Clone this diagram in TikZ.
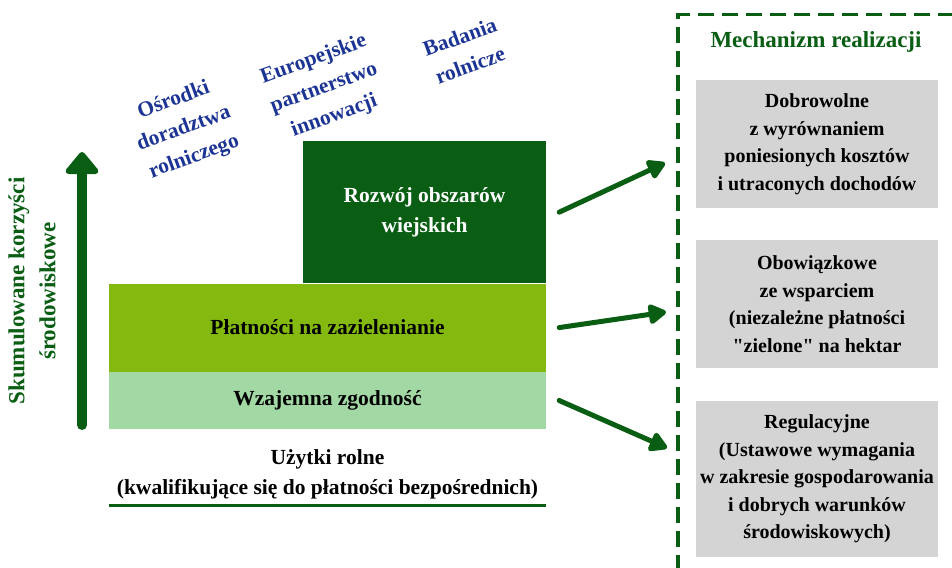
\documentclass[tikz,border=0pt]{standalone}
\usepackage{fontspec}
\setmainfont{Liberation Serif}[Ligatures=TeXOff]
\usetikzlibrary{positioning, arrows.meta}
\definecolor{agrodark}{RGB}{10,94,20}
\definecolor{agrolime}{RGB}{132,186,16}
\definecolor{agropale}{RGB}{162,216,164}
\definecolor{boxgray}{RGB}{212,212,212}
\definecolor{toolblue}{RGB}{28,52,148}

\begin{document}
\begin{tikzpicture}[
    x=1pt, y=1pt,
    node distance=32pt and 20pt,
    layer/.style={rectangle, inner sep=0pt, minimum width=437pt, align=center, font=\fontsize{21.5}{30}\selectfont\bfseries},
    mechbox/.style={rectangle, fill=boxgray, inner sep=0pt, minimum width=242pt, align=center, font=\fontsize{20}{27.5}\selectfont\bfseries},
    tool/.style={text=toolblue, rotate=20, align=center, font=\fontsize{21.5}{30}\selectfont\bfseries},
    arrow/.style={-{Triangle[round, length=20pt, width=22pt]}, line width=5pt, line cap=round, draw=agrodark}
]
    \useasboundingbox (0,0) rectangle (952,567);

    % warstwy wymogow
    \node [layer, fill=agropale, minimum height=57pt] (zgodnosc) at (327.5,166.5) {Wzajemna zgodność};
    \node [layer, fill=agrolime, minimum height=88pt, above=0pt of zgodnosc] (platnosci) {Płatności na zazielenianie};
    \node [layer, fill=agrodark, text=white, minimum width=243pt, minimum height=142pt, anchor=south east] (rozwoj) at (platnosci.north east) {Rozwój obszarów\\wiejskich};

    \node [font=\fontsize{21.5}{30}\selectfont\bfseries, align=center] (uzytki) at (327.5,93) {Użytki rolne\\(kwalifikujące się do płatności bezpośrednich)};
    \draw [agrodark, line width=3pt] ([yshift=-76pt]zgodnosc.south west) -- ([yshift=-76pt]zgodnosc.south east);

    % os korzysci
    \coordinate (osdol) at (82,142);
    \coordinate (osgora) at (82,415);
    \draw [agrodark, line width=10pt, line cap=round, -{Triangle[round, length=24pt, width=38pt]}] (osdol) -- (osgora);
    \node [rotate=90, text=agrodark, align=center, font=\fontsize{23}{31}\selectfont\bfseries] (korzysci) at (32,276) {Skumulowane korzyści\\środowiskowe};

    % wsparcie wiedzy
    \node [tool] (osrodki) at (184,438) {Ośrodki\\doradztwa\\rolniczego};
    \node [tool] (eip) at (324,479) {Europejskie\\partnerstwo\\innowacji};
    \node [tool] (badania) at (465,516) {Badania\\rolnicze};

    % mechanizm realizacji
    \node [draw=agrodark, line width=3.5pt, dash pattern=on 16pt off 8pt, minimum width=320pt, minimum height=620pt, anchor=north west] (realizacja) at (676,554) {};
    \node [text=agrodark, font=\fontsize{23}{28}\selectfont\bfseries] (mechtytul) at (816,525) {Mechanizm realizacji};

    \node [mechbox, minimum height=128pt] (dobrowolne) at (817,423) {Dobrowolne\\z wyrównaniem\\poniesionych kosztów\\i utraconych dochodów};
    \node [mechbox, minimum height=128pt, below=of dobrowolne] (obowiazkowe) {Obowiązkowe\\ze wsparciem\\(niezależne płatności\\"zielone" na hektar};
    \node [mechbox, minimum height=156pt, below=of obowiazkowe] (regulacyjne) {Regulacyjne\\(Ustawowe wymagania\\w zakresie gospodarowania\\i dobrych warunków\\środowiskowych)};

    % strzalki
    \coordinate (cel1) at (665,404);
    \coordinate (cel2) at (666,255);
    \coordinate (cel3) at (667,119);
    \draw [arrow] ([xshift=13pt]rozwoj.east) -- (cel1);
    \draw [arrow] ([xshift=13pt]platnosci.east) -- (cel2);
    \draw [arrow] ([xshift=13pt]zgodnosc.east) -- (cel3);

\end{tikzpicture}
\end{document}
